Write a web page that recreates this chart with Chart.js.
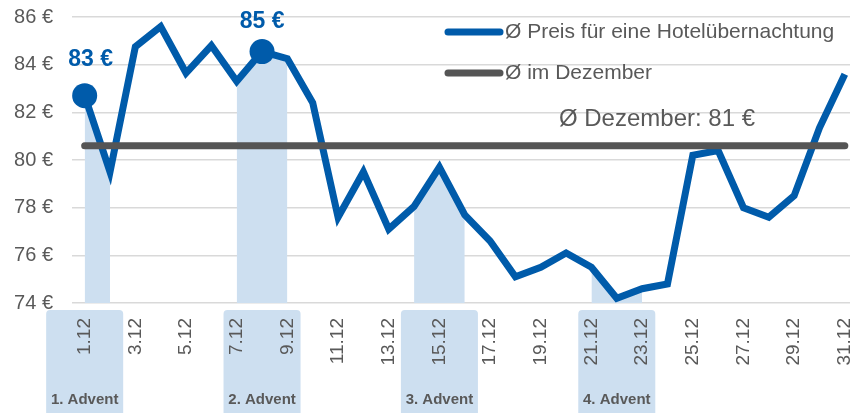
<!DOCTYPE html>
<html>
<head>
<meta charset="utf-8">
<script src="https://cdn.jsdelivr.net/npm/chart.js@4"></script>
<style>
  html, body { margin: 0; padding: 0; background: #fff; overflow: hidden; }
  #wrap { width: 850px; height: 413px; overflow: hidden; }
  canvas { display: block; }
</style>
</head>
<body>
<div id="wrap"><canvas id="hotelChart" width="870" height="413"></canvas></div>
<script>
// Tage im Dezember
const days = ['1.12','2.12','3.12','4.12','5.12','6.12','7.12','8.12','9.12','10.12',
  '11.12','12.12','13.12','14.12','15.12','16.12','17.12','18.12','19.12','20.12',
  '21.12','22.12','23.12','24.12','25.12','26.12','27.12','28.12','29.12','30.12','31.12'];

// Ø Preis pro Nacht
const prices = [82.7, 79.5, 84.75, 85.6, 83.65, 84.8, 83.3, 84.55, 84.25, 82.4,
  77.6, 79.5, 77.1, 78.05, 79.7, 77.7, 76.6, 75.1, 75.5, 76.1,
  75.5, 74.2, 74.6, 74.8, 80.2, 80.4, 78.0, 77.6, 78.5, 81.35, 83.6];

const decemberAvg = 80.6;
const decemberAvgText = 'Ø Dezember: 81 €';

const adventSundays = [1, 8, 15, 22];
const adventLabels = ['1. Advent', '2. Advent', '3. Advent', '4. Advent'];
const shadeDays = [1, 2, 7, 8, 9, 14, 15, 16, 21, 22, 23];
const markerDays = [1, 8];

const yTicks = [74, 76, 78, 80, 82, 84, 86];

const seriesLabels = ['Ø Preis für eine Hotelübernachtung', 'Ø im Dezember'];

const BLUE = '#005BAA';
const GRAY = '#555555';
const LIGHT = '#cddff0';
const TEXT = '#595959';
const FONT = "'Liberation Sans', Arial, sans-serif";

let chart;

const adventBoxes = {
  id: 'adventBoxes',
  beforeDraw(c) {
    const ctx = c.ctx;
    const x = c.scales.x;
    const top = c.chartArea.bottom + 7;
    ctx.save();
    adventSundays.forEach((d, i) => {
      const l = x.getPixelForValue(d - 1 - 1.52);
      const r = x.getPixelForValue(d - 1 + 1.52);
      ctx.fillStyle = LIGHT;
      ctx.beginPath();
      ctx.roundRect(l, top, r - l, c.height - top + 6, 4);
      ctx.fill();
      ctx.fillStyle = TEXT;
      ctx.font = 'bold 15px ' + FONT;
      ctx.textAlign = 'center';
      ctx.textBaseline = 'middle';
      ctx.fillText(adventLabels[i], (l + r) / 2, 400);
    });
    ctx.restore();
  }
};

const extras = {
  id: 'extras',
  afterDraw(c) {
    const ctx = c.ctx;
    const y = c.scales.y;
    ctx.save();

    // Preis-Beschriftungen an den Markern
    const meta = c.getDatasetMeta(0);
    const offs = { 0: [6, -36], 7: [0, -30] };
    ctx.fillStyle = BLUE;
    ctx.font = 'bold 23px ' + FONT;
    ctx.textAlign = 'center';
    ctx.textBaseline = 'middle';
    markerDays.forEach(d => {
      const i = d - 1;
      const pt = meta.data[i];
      const o = offs[i] || [0, -35];
      ctx.fillText(Math.round(prices[i]) + ' €', pt.x + o[0], pt.y + o[1]);
    });

    // Durchschnitt-Beschriftung
    ctx.fillStyle = TEXT;
    ctx.font = '24px ' + FONT;
    ctx.fillText(decemberAvgText, c.chartArea.left + 585, y.getPixelForValue(decemberAvg) - 26);

    // Legende
    const rows = [[BLUE, 32], [GRAY, 73]];
    ctx.lineCap = 'round';
    ctx.lineWidth = 7;
    ctx.textAlign = 'left';
    ctx.font = '21px ' + FONT;
    rows.forEach((r, i) => {
      ctx.strokeStyle = r[0];
      ctx.beginPath();
      ctx.moveTo(448, r[1]);
      ctx.lineTo(500, r[1]);
      ctx.stroke();
      ctx.fillStyle = TEXT;
      ctx.fillText(seriesLabels[i], 505, r[1]);
    });
    ctx.restore();
  }
};

function Loadchart() {
  const ctx = document.getElementById('hotelChart').getContext('2d');
  chart = new Chart(ctx, {
    type: 'line',
    data: {
      labels: days,
      datasets: [
        {
          label: seriesLabels[0],
          data: prices,
          borderColor: BLUE,
          backgroundColor: BLUE,
          borderWidth: 7,
          pointRadius: c => markerDays.includes(c.dataIndex + 1) ? 12.5 : 0,
          pointBorderWidth: 0,
          pointBackgroundColor: BLUE,
          tension: 0,
          fill: false,
          order: 1
        },
        {
          label: seriesLabels[1],
          data: days.map(() => decemberAvg),
          borderColor: GRAY,
          borderWidth: 7,
          borderCapStyle: 'round',
          pointRadius: 0,
          fill: false,
          order: 0
        },
        {
          label: 'Advent',
          data: prices.map((v, i) => shadeDays.includes(i + 1) ? v : null),
          borderWidth: 0,
          borderColor: 'rgba(0,0,0,0)',
          backgroundColor: LIGHT,
          pointRadius: 0,
          spanGaps: false,
          fill: 'start',
          order: 2
        }
      ]
    },
    options: {
      responsive: false,
      animation: false,
      devicePixelRatio: 1,
      layout: { padding: { top: 17, right: 0, bottom: 0, left: 0 } },
      plugins: {
        legend: { display: false },
        tooltip: { enabled: false }
      },
      scales: {
        x: {
          type: 'category',
          offset: true,
          grid: { display: false, drawTicks: false },
          border: { display: false },
          ticks: {
            autoSkip: false,
            minRotation: 90,
            maxRotation: 90,
            padding: 15,
            color: TEXT,
            font: { family: FONT, size: 19 },
            callback: function (v, i) { return i % 2 === 0 ? this.getLabelForValue(v) : ''; }
          },
          afterFit: s => { s.height = 110; s.paddingLeft = 0; s.paddingRight = 0; }
        },
        y: {
          min: 74,
          max: 86,
          grid: { color: '#d9d9d9', lineWidth: 1.5, drawTicks: false },
          border: { display: false },
          afterBuildTicks: s => { s.ticks = yTicks.map(v => ({ value: v })); },
          ticks: {
            padding: 19,
            color: TEXT,
            font: { family: FONT, size: 20 },
            callback: v => v + ' €'
          },
          afterFit: s => { s.width = 72; s.paddingTop = 0; s.paddingBottom = 0; }
        }
      }
    },
    plugins: [adventBoxes, extras]
  });
}

Loadchart();
</script>
</body>
</html>
